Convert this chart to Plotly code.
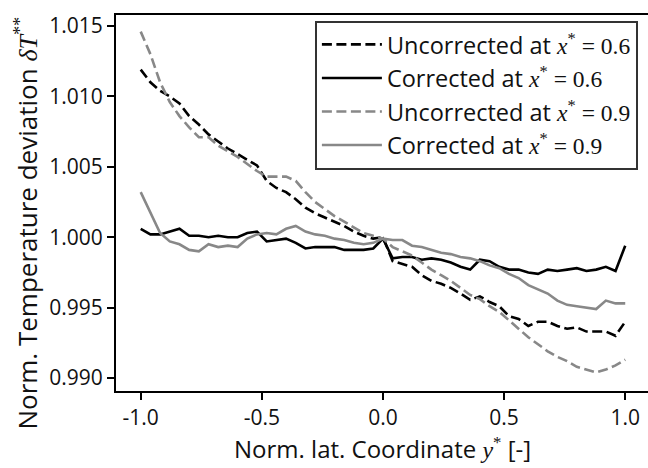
import plotly.graph_objects as go

y_star = [-1.00, -0.96, -0.92, -0.88, -0.84, -0.80, -0.76, -0.72, -0.68, -0.64,
          -0.60, -0.56, -0.52, -0.48, -0.44, -0.40, -0.36, -0.32, -0.28, -0.24,
          -0.20, -0.16, -0.12, -0.08, -0.04, 0.00, 0.04, 0.08, 0.12, 0.16,
          0.20, 0.24, 0.28, 0.32, 0.36, 0.40, 0.44, 0.48, 0.52, 0.56,
          0.60, 0.64, 0.68, 0.72, 0.76, 0.80, 0.84, 0.88, 0.92, 0.96, 1.00]

uncorr_06 = [1.0119, 1.0110, 1.0104, 1.0100, 1.0095, 1.0086, 1.0080, 1.0073, 1.0068, 1.0063,
             1.0059, 1.0055, 1.0051, 1.0040, 1.0035, 1.0032, 1.0027, 1.0021, 1.0017, 1.0014,
             1.0011, 1.0008, 1.0004, 1.0001, 0.9999, 1.0000, 0.9983, 0.9981, 0.9979, 0.9973,
             0.9969, 0.9967, 0.9964, 0.9960, 0.99555, 0.9958, 0.9954, 0.9951, 0.9944, 0.9942,
             0.9937, 0.9940, 0.9940, 0.9937, 0.9935, 0.9936, 0.9933, 0.9933, 0.9933, 0.9930, 0.9940]

corr_06 = [1.0006, 1.0002, 1.0002, 1.0004, 1.0006, 1.0001, 1.0001, 1.0000, 1.0001, 1.0000,
           1.0000, 1.0003, 1.0004, 0.9997, 0.9998, 0.9999, 0.9996, 0.9992, 0.9993, 0.9993,
           0.9993, 0.9991, 0.9991, 0.9991, 0.9992, 0.9999, 0.9985, 0.9986, 0.9986, 0.9984,
           0.9985, 0.9984, 0.9982, 0.9979, 0.9977, 0.9984, 0.9983, 0.9979, 0.9977, 0.9977,
           0.9975, 0.9974, 0.9977, 0.9976, 0.9977, 0.9978, 0.9976, 0.9977, 0.9979, 0.9976, 0.9994]

uncorr_09 = [1.0146, 1.0130, 1.0110, 1.0096, 1.0086, 1.0078, 1.0071, 1.0071, 1.0065, 1.0061,
             1.0057, 1.0052, 1.0047, 1.0043, 1.0043, 1.0043, 1.0040, 1.0032, 1.0025, 1.0020,
             1.0015, 1.0011, 1.0007, 1.0003, 1.0001, 0.9999, 0.9993, 0.9990, 0.9987, 0.9982,
             0.9977, 0.9973, 0.9969, 0.9964, 0.9959, 0.9956, 0.9951, 0.9947, 0.9941, 0.9935,
             0.9929, 0.9924, 0.9919, 0.9915, 0.9912, 0.9908, 0.9906, 0.9904, 0.9906, 0.9909, 0.9913]

corr_09 = [1.0032, 1.0018, 1.0003, 0.9997, 0.9995, 0.9991, 0.9990, 0.9995, 0.9993, 0.9994,
           0.9993, 0.9999, 1.0002, 1.0003, 1.0002, 1.0006, 1.0008, 1.0004, 1.0002, 1.0001,
           0.9999, 0.9998, 0.9996, 0.9995, 0.9996, 0.9999, 0.9998, 0.9998, 0.9994, 0.9993,
           0.9991, 0.9989, 0.9988, 0.9986, 0.9985, 0.9983, 0.9980, 0.9978, 0.9974, 0.9971,
           0.9966, 0.9963, 0.9960, 0.9955, 0.9952, 0.9951, 0.9950, 0.9949, 0.9955, 0.9953, 0.9953]

SERIF = "font-family:'Liberation Serif'"
series_names = [
    f"Uncorrected at <span style=\"{SERIF}\"><i>x</i><sup>*</sup> = 0.6</span>",
    f"Corrected at <span style=\"{SERIF}\"><i>x</i><sup>*</sup> = 0.6</span>",
    f"Uncorrected at <span style=\"{SERIF}\"><i>x</i><sup>*</sup> = 0.9</span>",
    f"Corrected at <span style=\"{SERIF}\"><i>x</i><sup>*</sup> = 0.9</span>",
]
x_title = f"Norm. lat. Coordinate <span style=\"{SERIF}\"><i>y</i><sup>*</sup></span> [-]"
y_title = f"Norm. Temperature deviation <span style=\"{SERIF}\"><i>δT</i><sup>**</sup></span>"

x_tick_vals = [-1.0, -0.5, 0.0, 0.5, 1.0]
x_tick_text = ['-1.0', '-0.5', '0.0', '0.5', '1.0']
y_tick_vals = [0.990, 0.995, 1.000, 1.005, 1.010, 1.015]
y_tick_text = ['0.990', '0.995', '1.000', '1.005', '1.010', '1.015']

FONT = 'Open Sans'
styles = [('black', '10px,4.5px'), ('black', 'solid'), ('#888888', '10px,4.5px'), ('#888888', 'solid')]
data = [uncorr_06, corr_06, uncorr_09, corr_09]

fig = go.Figure()
for name, vals, (col, dash) in zip(series_names, data, styles):
    fig.add_trace(go.Scatter(x=y_star, y=vals, mode='lines', name=name,
                             line=dict(color=col, dash=dash, width=2.6)))

fig.update_layout(
    width=648, height=468,
    margin=dict(l=116, r=0, t=15, b=77),
    paper_bgcolor='white', plot_bgcolor='white',
    font=dict(family=FONT, size=21, color='#111111'),
    showlegend=True,
    legend=dict(x=0.981, y=0.985, xanchor='right', yanchor='top',
                bgcolor='white', bordercolor='#333333', borderwidth=2,
                font=dict(size=23.5), tracegroupgap=0, itemwidth=60),
    annotations=[
        dict(text=x_title, xref='paper', yref='paper', x=0.5, y=-0.152,
             xanchor='center', yanchor='middle', showarrow=False, font=dict(size=24)),
        dict(text=y_title, xref='paper', yref='paper', x=-0.168, y=0.447,
             xanchor='center', yanchor='middle', showarrow=False, textangle=-90,
             font=dict(size=26)),
    ],
)
fig.update_xaxes(range=[-1.102, 1.094], showgrid=False, zeroline=False,
                 showline=True, linecolor='black', linewidth=2, mirror=True,
                 ticks='outside', ticklen=7, tickwidth=1.5, tickcolor='black',
                 tickvals=x_tick_vals, ticktext=x_tick_text, automargin=False)
fig.update_yaxes(range=[0.98908, 1.01578], showgrid=False, zeroline=False,
                 showline=True, linecolor='black', linewidth=2,
                 ticks='outside', ticklen=7, tickwidth=1.5, tickcolor='black',
                 tickvals=y_tick_vals, ticktext=y_tick_text, automargin=False)
fig.write_html('out.html', config={'displayModeBar': False},
               post_script="document.body.style.margin='0px';document.body.style.overflow='hidden';")
